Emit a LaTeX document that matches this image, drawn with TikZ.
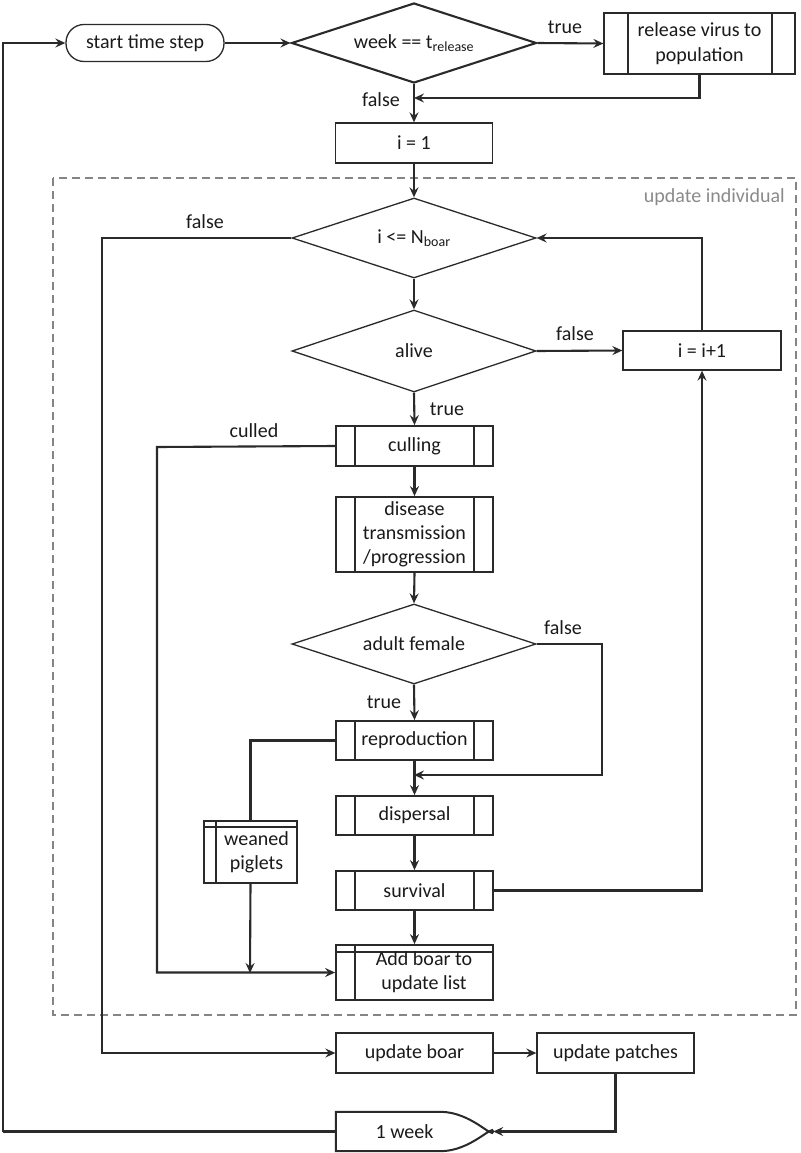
\documentclass[tikz,border=0pt]{standalone}
\usepackage{fontspec}
\setmainfont{Carlito}
\usetikzlibrary{shapes.geometric,arrows.meta}
\definecolor{ln}{HTML}{2A2A2A}
\definecolor{txt}{HTML}{1A1A1A}
\definecolor{dsh}{HTML}{858585}
\definecolor{gtxt}{HTML}{8A8A8A}
\begin{document}
\begin{tikzpicture}[x=1pt,y=-1pt,
  every node/.style={font=\fontsize{20}{24}\selectfont, text=txt},
  line/.style={draw=ln, line width=2.1pt},
  arr/.style={line, -{Stealth[length=10pt,width=9pt,inset=3.5pt]}},
  box/.style={draw=ln, line width=1.3pt, rectangle, minimum width=157pt, minimum height=40pt, inner sep=1pt, align=center, fill=white},
  subr/.style={box, line width=1.8pt, path picture={\draw[ln, line width=1.5pt]
      ([xshift=19pt]path picture bounding box.north west) -- ([xshift=19pt]path picture bounding box.south west)
      ([xshift=-19pt]path picture bounding box.north east) -- ([xshift=-19pt]path picture bounding box.south east);}},
  store/.style={box, line width=1.8pt, path picture={\draw[ln, line width=1.5pt]
      ([yshift=-7pt]path picture bounding box.north west) -- ([yshift=-7pt]path picture bounding box.north east)
      ([xshift=19pt]path picture bounding box.north west) -- ([xshift=19pt]path picture bounding box.south west);}},
  dec/.style={draw=ln, line width=1.3pt, diamond, aspect=3.05, minimum width=244pt, minimum height=80pt, inner sep=0pt, fill=white},
  lbl/.style={inner sep=0pt},
]
\useasboundingbox (0,0) rectangle (800,1153);

% dashed group
\draw[dsh, line width=2.2pt, dash pattern=on 8pt off 5pt] (53,178) rectangle (796,1015);
\node[lbl, text=gtxt, anchor=east] (updind) at (785,197) {update individual};

% nodes
\node[draw=ln, line width=1.3pt, rectangle, rounded corners=18pt, minimum width=158pt, minimum height=37pt, inner sep=1pt] (start) at (145,43) {start time step};
\node[dec, line width=2.1pt, minimum width=245pt] (wk) at (414,43) {week == t\textsubscript{release}};
\node[box, minimum width=191pt, minimum height=61pt, path picture={\draw[ln, line width=1.3pt]
      ([xshift=24pt]path picture bounding box.north west) -- ([xshift=24pt]path picture bounding box.south west)
      ([xshift=-23pt]path picture bounding box.north east) -- ([xshift=-23pt]path picture bounding box.south east);},
      font=\fontsize{20}{25}\selectfont] (rel) at (699.5,43.5) {release virus to\\population};
\node[box] (i1) at (414,143) {i = 1};
\node[dec] (nN) at (414,238) {i <= N\textsubscript{boar}};
\node[dec, minimum height=82pt] (alive) at (414,351) {alive};
\node[box, minimum width=158pt, minimum height=39pt] (inc) at (702,350.5) {i = i+1};
\node[subr] (cull) at (414.5,446) {culling};
\node[subr, minimum height=75pt] (dis) at (414.5,534.5) {disease\\transmission\\/progression};
\node[dec] (adult) at (414,644) {adult female};
\node[subr, minimum height=39pt] (rep) at (414.5,740.5) {reproduction};
\node[subr, minimum height=39pt] (disp) at (414.5,815.5) {dispersal};
\node[subr, minimum height=39pt] (surv) at (414.5,890.5) {survival};
\node[store, minimum height=55pt, font=\fontsize{20}{24}\selectfont] (add) at (414.5,972.5) {\hspace*{19pt}Add boar to\\\hspace*{19pt}update list};
\node[box, minimum width=93pt, minimum height=62pt, line width=1.8pt, path picture={\draw[ln, line width=1.5pt]
      ([yshift=-6pt]path picture bounding box.north west) -- ([yshift=-6pt]path picture bounding box.north east)
      ([xshift=12pt]path picture bounding box.north west) -- ([xshift=12pt]path picture bounding box.south west);}] (wp) at (250.5,852) {\hspace*{12pt}weaned\\\hspace*{12pt}piglets};
\node[box, minimum height=40pt] (ub) at (414.5,1053) {update boar};
\node[box, minimum width=157pt, minimum height=40pt] (up) at (615.5,1053) {update patches};
% delay shape
\node[minimum width=157pt, minimum height=39pt, inner sep=0pt] (wk1) at (414.5,1131.5) {};
\draw[ln, line width=2pt, fill=white] (wk1.north west) -- ([xshift=-53pt]wk1.north east)
  .. controls ([xshift=-22pt]wk1.north east) and ([yshift=-8pt]wk1.east) .. (wk1.east)
  .. controls ([yshift=8pt]wk1.east) and ([xshift=-22pt]wk1.south east) .. ([xshift=-53pt]wk1.south east)
  -- (wk1.south west) -- cycle;
\node[inner sep=0pt] (wk1t) at (wk1) {\hspace*{-20pt}1 week};

% labels
\node[lbl] (lt1) at (565,27) {true};
\node[lbl] (lf1) at (381,100) {false};
\node[lbl] (lf2) at (205,222) {false};
\node[lbl] (lf3) at (575,334) {false};
\node[lbl] (lt2) at (447,409) {true};
\node[lbl] (lc) at (254,431) {culled};
\node[lbl] (lf4) at (563,628) {false};
\node[lbl] (lt3) at (384,702) {true};

% junction coordinates
\coordinate (j1) at (414,98);
\coordinate (j2) at (414,775);
\coordinate (j3) at (250,973);
\coordinate (lb) at (3,1131.5);

% connectors
\draw[line] (wk1.west) -- (lb);
\draw[arr] (lb) |- (start.west);
\draw[arr] (start.east) -- (wk.west);
\draw[arr] (wk.east) -- (rel.west);
\draw[arr] (rel.south) |- (j1);
\draw[arr] (wk.south) -- (i1.north);
\draw[arr] (i1.south) -- (nN.north);
\draw[arr] (nN.south) -- (alive.north);
\draw[arr] (alive.east) -- (inc.west);
\draw[arr] (inc.north) |- (nN.east);
\draw[arr] (alive.south) -- (cull.north);
\draw[arr] (cull.south) -- (dis.north);
\draw[arr] (dis.south) -- (adult.north);
\draw[arr] (adult.south) -- (rep.north);
\draw[arr] (adult.east) -- (602,644) |- (j2);
\draw[arr] (rep.south) -- (disp.north);
\draw[arr] (disp.south) -- (surv.north);
\draw[arr] (surv.south) -- (add.north);
\draw[arr] (surv.east) -| (inc.south);
\draw[line] (rep.west) -| (wp.north);
\draw[arr] (wp.south) -- (j3);
\draw[arr] (cull.west) -- (157,447) |- (add.west);
\draw[arr] (nN.west) -- (102,238) |- (ub.west);
\draw[arr] (ub.east) -- (up.west);
\draw[arr] (up.south) |- (wk1.east);
\end{tikzpicture}
\end{document}
